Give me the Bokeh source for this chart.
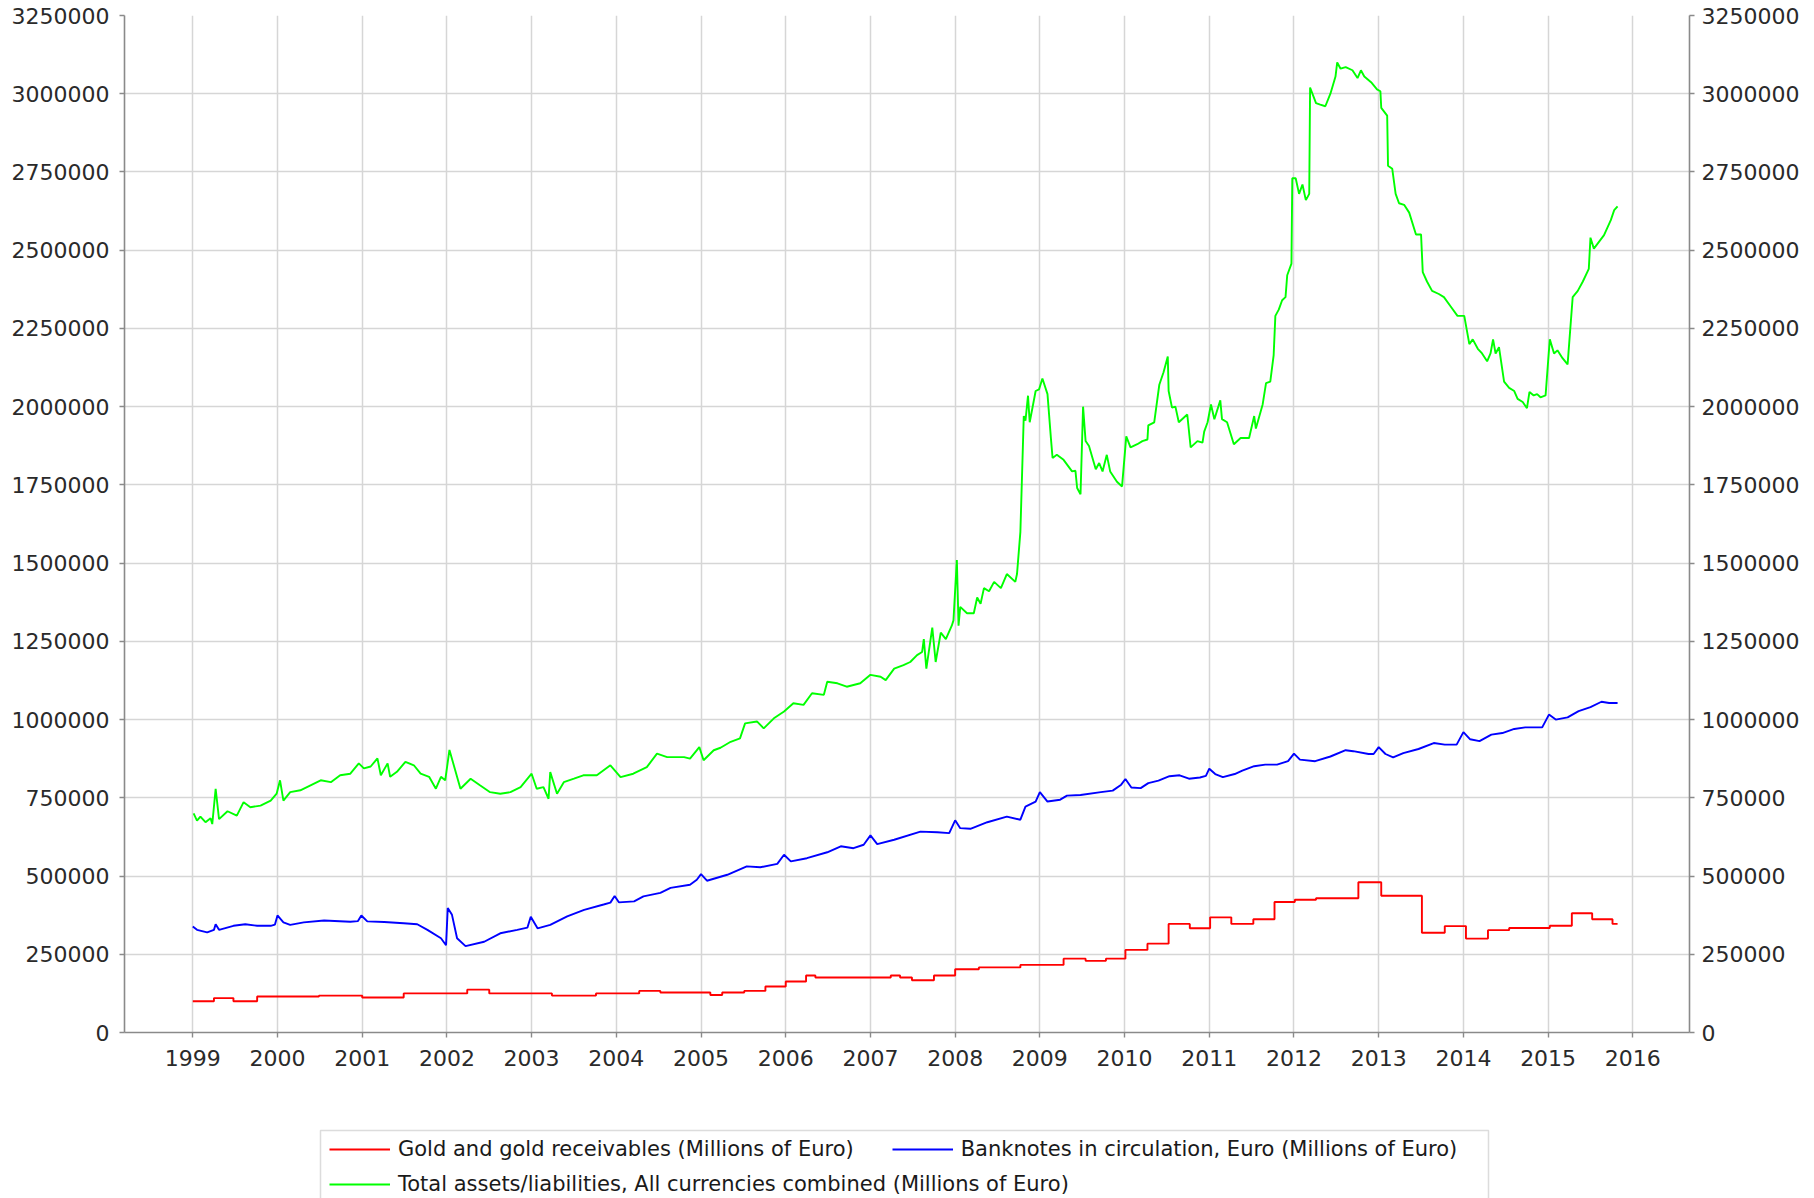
from bokeh.plotting import figure
from bokeh.models import (Range1d, FixedTicker, LinearAxis, BasicTickFormatter,
                          Legend, LegendItem, BoxAnnotation)
from bokeh.layouts import column
from bokeh.embed import file_html
from bokeh.resources import INLINE
from bokeh.core.properties import value

# ---------------- data (decimal year, millions of euro) ----------------
year_ticks = [1999, 2000, 2001, 2002, 2003, 2004, 2005, 2006, 2007, 2008,
              2009, 2010, 2011, 2012, 2013, 2014, 2015, 2016]
value_ticks = [0, 250000, 500000, 750000, 1000000, 1250000, 1500000, 1750000,
               2000000, 2250000, 2500000, 2750000, 3000000, 3250000]

series_names = ["Gold and gold receivables (Millions of Euro)",
                "Banknotes in circulation, Euro (Millions of Euro)",
                "Total assets/liabilities, All currencies combined (Millions of Euro)"]

gold_t = [1999.00, 1999.25, 1999.48, 1999.76, 2000.49, 2001.00, 2001.49, 2002.24, 2002.50,
          2003.24, 2003.76, 2004.27, 2004.52, 2005.11, 2005.25, 2005.51, 2005.76, 2006.00,
          2006.24, 2006.35, 2007.24, 2007.35, 2007.49, 2007.75, 2008.00, 2008.28, 2008.77,
          2009.28, 2009.54, 2009.78, 2010.01, 2010.27, 2010.52, 2010.77, 2011.01, 2011.26,
          2011.52, 2011.77, 2012.01, 2012.26, 2012.76, 2013.03, 2013.51, 2013.78, 2014.03,
          2014.29, 2014.54, 2015.02, 2015.28, 2015.52, 2015.76, 2015.82]
gold_v = [100000, 110000, 100000, 115000, 118000, 112000, 125000, 137000, 125000,
          118000, 125000, 133000, 128000, 120000, 128000, 133000, 147000, 163000,
          182000, 176000, 182000, 176000, 167000, 182000, 202000, 208000, 216000,
          236000, 229000, 236000, 264000, 284000, 347000, 333000, 368000, 347000,
          362000, 417000, 424000, 429000, 480000, 437000, 319000, 340000, 300000,
          327000, 334000, 341000, 381000, 362000, 347000, 347000]

notes_t = [1999.00, 1999.05, 1999.17, 1999.25, 1999.27, 1999.31, 1999.48, 1999.62, 1999.76,
           1999.92, 1999.97, 2000.00, 2000.07, 2000.15, 2000.31, 2000.55, 2000.86, 2000.95,
           2000.99, 2001.06, 2001.26, 2001.49, 2001.65, 2001.77, 2001.93, 2001.99, 2002.01,
           2002.06, 2002.12, 2002.22, 2002.44, 2002.63, 2002.83, 2002.95, 2002.99, 2003.07,
           2003.22, 2003.42, 2003.62, 2003.85, 2003.93, 2003.98, 2004.03, 2004.21, 2004.32,
           2004.52, 2004.64, 2004.87, 2004.95, 2005.00, 2005.07, 2005.31, 2005.54, 2005.70,
           2005.90, 2005.98, 2006.06, 2006.25, 2006.49, 2006.65, 2006.80, 2006.92, 2007.00,
           2007.08, 2007.28, 2007.59, 2007.79, 2007.93, 2008.00, 2008.06, 2008.18, 2008.38,
           2008.61, 2008.77, 2008.83, 2008.95, 2009.00, 2009.09, 2009.24, 2009.32, 2009.48,
           2009.72, 2009.86, 2009.96, 2010.01, 2010.08, 2010.19, 2010.28, 2010.40, 2010.53,
           2010.65, 2010.76, 2010.89, 2010.96, 2011.00, 2011.07, 2011.16, 2011.30, 2011.39,
           2011.53, 2011.66, 2011.80, 2011.93, 2012.00, 2012.07, 2012.25, 2012.43, 2012.61,
           2012.70, 2012.88, 2012.94, 2013.00, 2013.08, 2013.17, 2013.29, 2013.47, 2013.65,
           2013.78, 2013.92, 2014.00, 2014.08, 2014.19, 2014.33, 2014.46, 2014.60, 2014.73,
           2014.93, 2015.01, 2015.09, 2015.23, 2015.36, 2015.50, 2015.63, 2015.72, 2015.82]
notes_v = [339000, 328000, 320000, 328000, 346000, 328000, 341000, 346000, 341000,
           341000, 345000, 374000, 352000, 344000, 352000, 358000, 354000, 356000,
           374000, 355000, 353000, 349000, 346000, 328000, 301000, 279000, 398000,
           376000, 301000, 276000, 290000, 317000, 328000, 335000, 370000, 333000,
           344000, 371000, 392000, 409000, 415000, 436000, 416000, 419000, 435000,
           446000, 462000, 472000, 488000, 506000, 485000, 504000, 531000, 528000,
           539000, 568000, 547000, 557000, 576000, 595000, 589000, 600000, 630000,
           602000, 616000, 642000, 640000, 637000, 678000, 653000, 651000, 672000,
           690000, 680000, 722000, 738000, 768000, 738000, 744000, 757000, 759000,
           768000, 773000, 792000, 810000, 783000, 781000, 797000, 805000, 819000,
           822000, 811000, 815000, 820000, 843000, 826000, 816000, 826000, 837000,
           851000, 856000, 856000, 867000, 891000, 872000, 867000, 882000, 902000,
           899000, 890000, 890000, 912000, 890000, 879000, 893000, 906000, 925000,
           920000, 920000, 960000, 937000, 931000, 952000, 957000, 970000, 975000,
           975000, 1016000, 1000000, 1007000, 1027000, 1040000, 1057000, 1053000, 1053000]

total_t = [1999.01, 1999.05, 1999.09, 1999.15, 1999.21, 1999.23, 1999.27, 1999.31, 1999.41,
           1999.52, 1999.60, 1999.68, 1999.80, 1999.92, 1999.99, 2000.03, 2000.07, 2000.15,
           2000.27, 2000.39, 2000.51, 2000.63, 2000.74, 2000.86, 2000.96, 2001.02, 2001.10,
           2001.18, 2001.22, 2001.30, 2001.33, 2001.41, 2001.51, 2001.61, 2001.69, 2001.79,
           2001.87, 2001.93, 2001.98, 2002.03, 2002.16, 2002.28, 2002.39, 2002.51, 2002.63,
           2002.75, 2002.87, 2003.00, 2003.06, 2003.14, 2003.20, 2003.22, 2003.30, 2003.38,
           2003.50, 2003.61, 2003.77, 2003.93, 2004.05, 2004.20, 2004.36, 2004.48, 2004.60,
           2004.80, 2004.87, 2004.98, 2005.03, 2005.15, 2005.23, 2005.35, 2005.46, 2005.52,
           2005.66, 2005.74, 2005.86, 2005.98, 2006.09, 2006.21, 2006.31, 2006.45, 2006.49,
           2006.61, 2006.72, 2006.88, 2007.00, 2007.12, 2007.18, 2007.28, 2007.39, 2007.47,
           2007.55, 2007.61, 2007.63, 2007.66, 2007.73, 2007.77, 2007.83, 2007.89, 2007.96,
           2007.98, 2008.02, 2008.04, 2008.06, 2008.14, 2008.22, 2008.26, 2008.30, 2008.34,
           2008.40, 2008.46, 2008.54, 2008.61, 2008.71, 2008.73, 2008.77, 2008.81, 2008.83,
           2008.86, 2008.88, 2008.92, 2008.95, 2008.99, 2009.03, 2009.09, 2009.13, 2009.15,
           2009.20, 2009.28, 2009.38, 2009.42, 2009.44, 2009.48, 2009.51, 2009.54, 2009.58,
           2009.66, 2009.70, 2009.74, 2009.79, 2009.83, 2009.91, 2009.97, 2010.02, 2010.07,
           2010.15, 2010.21, 2010.27, 2010.28, 2010.35, 2010.41, 2010.46, 2010.51, 2010.52,
           2010.56, 2010.60, 2010.64, 2010.74, 2010.78, 2010.86, 2010.92, 2010.94, 2010.98,
           2011.02, 2011.06, 2011.13, 2011.15, 2011.21, 2011.29, 2011.37, 2011.47, 2011.53,
           2011.55, 2011.63, 2011.67, 2011.72, 2011.76, 2011.78, 2011.82, 2011.86, 2011.90,
           2011.92, 2011.97, 2011.98, 2012.02, 2012.06, 2012.10, 2012.14, 2012.18, 2012.19,
           2012.26, 2012.31, 2012.37, 2012.43, 2012.49, 2012.51, 2012.55, 2012.61, 2012.69,
           2012.75, 2012.79, 2012.83, 2012.91, 2012.98, 2013.02, 2013.03, 2013.10, 2013.11,
           2013.16, 2013.20, 2013.24, 2013.30, 2013.36, 2013.44, 2013.50, 2013.52, 2013.57,
           2013.63, 2013.71, 2013.77, 2013.85, 2013.93, 2014.01, 2014.07, 2014.11, 2014.17,
           2014.22, 2014.28, 2014.32, 2014.35, 2014.38, 2014.42, 2014.48, 2014.54, 2014.60,
           2014.64, 2014.70, 2014.75, 2014.78, 2014.83, 2014.87, 2014.91, 2014.97, 2015.00,
           2015.02, 2015.07, 2015.11, 2015.17, 2015.23, 2015.29, 2015.35, 2015.41, 2015.48,
           2015.50, 2015.54, 2015.66, 2015.74, 2015.78, 2015.82]
total_v = [700000, 677000, 690000, 672000, 685000, 666000, 779000, 682000, 707000,
           693000, 736000, 720000, 725000, 741000, 763000, 806000, 741000, 768000,
           774000, 790000, 806000, 800000, 822000, 827000, 860000, 844000, 850000,
           876000, 822000, 860000, 817000, 833000, 865000, 854000, 827000, 817000,
           779000, 817000, 806000, 903000, 779000, 811000, 790000, 768000, 763000,
           768000, 784000, 827000, 779000, 784000, 747000, 832000, 763000, 800000,
           811000, 822000, 822000, 854000, 816000, 827000, 848000, 891000, 880000,
           880000, 875000, 912000, 870000, 902000, 910000, 929000, 940000, 988000,
           994000, 972000, 1004000, 1026000, 1052000, 1047000, 1084000, 1079000, 1121000,
           1116000, 1105000, 1116000, 1143000, 1137000, 1126000, 1163000, 1174000, 1184000,
           1206000, 1216000, 1257000, 1163000, 1294000, 1184000, 1278000, 1257000, 1300000,
           1317000, 1510000, 1300000, 1360000, 1340000, 1340000, 1390000, 1370000, 1420000,
           1410000, 1440000, 1420000, 1465000, 1440000, 1465000, 1600000, 1970000, 1955000,
           2035000, 1950000, 2007000, 2050000, 2055000, 2090000, 2040000, 1900000, 1836000,
           1846000, 1830000, 1793000, 1795000, 1740000, 1720000, 2000000, 1890000, 1874000,
           1800000, 1820000, 1793000, 1846000, 1793000, 1760000, 1745000, 1905000, 1870000,
           1880000, 1890000, 1895000, 1940000, 1950000, 2070000, 2110000, 2160000, 2050000,
           1997000, 2000000, 1950000, 1975000, 1870000, 1890000, 1885000, 1920000, 1950000,
           2007000, 1960000, 2020000, 1960000, 1950000, 1880000, 1900000, 1900000, 1970000,
           1930000, 2007000, 2075000, 2080000, 2165000, 2290000, 2310000, 2340000, 2350000,
           2420000, 2457000, 2730000, 2730000, 2680000, 2710000, 2660000, 2680000, 3020000,
           2970000, 2965000, 2960000, 3000000, 3055000, 3100000, 3080000, 3085000, 3075000,
           3050000, 3075000, 3055000, 3037000, 3014000, 3008000, 2955000, 2930000, 2770000,
           2760000, 2680000, 2650000, 2645000, 2620000, 2550000, 2550000, 2430000, 2400000,
           2370000, 2360000, 2350000, 2320000, 2290000, 2290000, 2200000, 2215000, 2185000,
           2170000, 2145000, 2170000, 2215000, 2170000, 2190000, 2080000, 2060000, 2050000,
           2025000, 2015000, 1995000, 2047000, 2036000, 2040000, 2030000, 2036000, 2145000,
           2215000, 2170000, 2180000, 2155000, 2135000, 2350000, 2370000, 2400000, 2440000,
           2540000, 2505000, 2548000, 2596000, 2628000, 2640000]

colors = ["#ff0000", "#0000ff", "#00ff00"]

# ---------------- main chart ----------------
FONT = "DejaVu Sans"
W = 1804
LEFT, RIGHT = 124, 115
p = figure(width=W, height=1100, output_backend="svg", toolbar_location=None,
           x_range=Range1d(1998.194, 2016.669), y_range=Range1d(0, 3250000),
           min_border_left=LEFT, min_border_right=RIGHT, min_border_top=15,
           min_border_bottom=68, background_fill_color="white",
           border_fill_color="white", outline_line_color=None)

p.step(gold_t, gold_v, mode="after", line_color=colors[0], line_width=1.9)
p.line(notes_t, notes_v, line_color=colors[1], line_width=1.9)
p.line(total_t, total_v, line_color=colors[2], line_width=1.9)

right_axis = LinearAxis()
p.add_layout(right_axis, "right")

for ax in p.xaxis:
    ax.ticker = FixedTicker(ticks=year_ticks)
    ax.major_label_standoff = 12
for ax in p.yaxis:
    ax.ticker = FixedTicker(ticks=value_ticks)
    ax.formatter = BasicTickFormatter(use_scientific=False)
p.yaxis[0].major_label_standoff = 10
right_axis.major_label_standoff = 7

for ax in p.axis:
    ax.axis_line_color = "#8a8a8a"
    ax.axis_line_width = 1.6
    ax.major_tick_line_color = "#8a8a8a"
    ax.major_tick_line_width = 1.4
    ax.major_tick_out = 5
    ax.major_tick_in = 0
    ax.minor_tick_line_color = None
    ax.major_label_text_font = FONT
    ax.major_label_text_font_size = "22px"
    ax.major_label_text_color = "#2a2a2a"

p.xgrid.ticker = FixedTicker(ticks=year_ticks)
p.ygrid.ticker = FixedTicker(ticks=value_ticks)
p.grid.grid_line_color = "#d6d6d6"
p.grid.grid_line_width = 1.5

# ---------------- legend strip (frame aligned with main frame) ----------------
LH = 98
lf = figure(width=W, height=LH, output_backend="svg", toolbar_location=None,
            x_range=Range1d(LEFT, W - RIGHT), y_range=Range1d(0, LH),
            x_axis_type=None, y_axis_type=None,
            min_border_left=LEFT, min_border_right=RIGHT,
            min_border_top=0, min_border_bottom=0,
            outline_line_color=None, background_fill_color="white",
            border_fill_color="white")

d = [lf.line(x=[0], y=[-1000], line_color=c, line_width=1.9) for c in colors]

lf.add_layout(BoxAnnotation(left=320, right=1488, top=LH - 30, bottom=-40,
                            fill_alpha=0, line_color="#8a8a8a", line_width=1.5))

leg_common = dict(orientation="horizontal", padding=0, margin=0,
                  border_line_color=None, background_fill_alpha=0,
                  glyph_width=61, glyph_height=20, label_height=20,
                  label_standoff=8, label_text_font=FONT,
                  label_text_font_size="21px", label_text_color="#1a1a1a")

leg_a = Legend(items=[LegendItem(label=value(series_names[0]), renderers=[d[0]]),
                      LegendItem(label=value(series_names[1]), renderers=[d[1]])],
               location=(329 - LEFT, 37), spacing=38, **leg_common)
leg_b = Legend(items=[LegendItem(label=value(series_names[2]), renderers=[d[2]])],
               location=(329 - LEFT, 2), spacing=0, **leg_common)
lf.add_layout(leg_a)
lf.add_layout(leg_b)

layout = column(p, lf, spacing=0)
open("out.html", "w").write(file_html(layout, INLINE))
